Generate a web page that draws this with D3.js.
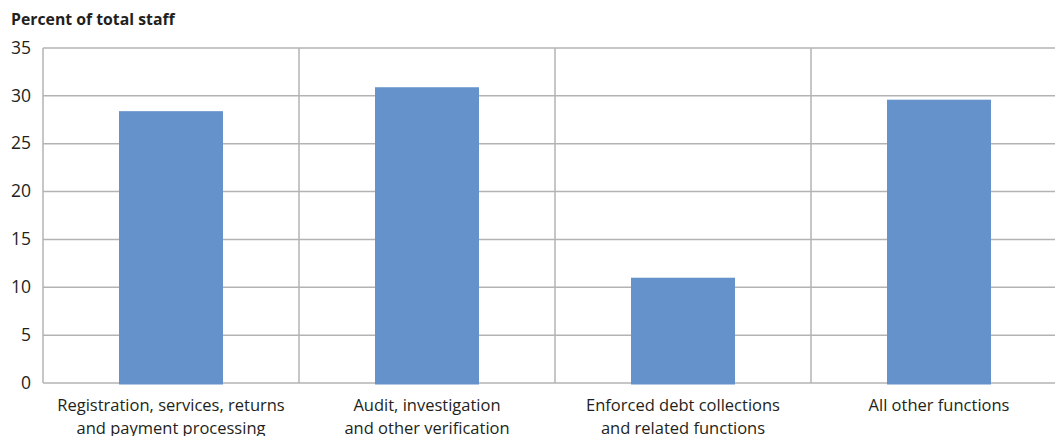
<!DOCTYPE html>
<html><head><meta charset="utf-8">
<script src="https://cdn.jsdelivr.net/npm/d3@7"></script>
<style>body{margin:0;background:#fff}svg{display:block}text{font-family:"Open Sans","Noto Sans",sans-serif;fill:#231f20}</style>
</head><body>
<script>
const categories = [
  ["Registration, services, returns","and payment processing"],
  ["Audit, investigation","and other verification"],
  ["Enforced debt collections","and related functions"],
  ["All other functions"]
];
const values = [28.4, 30.9, 11.0, 29.6];
const yTicks = [0,5,10,15,20,25,30,35];
const yTitle = "Percent of total staff";

(function(){
const W = 1055, H = 436;
const mLeft = 43, mRight = 1067, mTop = 48, mBottom = 383;
const svg = d3.select("body").append("svg").attr("width", W).attr("height", H);

const x = d3.scaleBand().domain(d3.range(categories.length)).range([mLeft, mRight]).paddingInner(0).paddingOuter(0);
const y = d3.scaleLinear().domain([0,35]).range([mBottom, mTop]);

// horizontal gridlines
svg.append("g").selectAll("line").data(yTicks).join("line")
  .attr("x1", mLeft).attr("x2", mRight)
  .attr("y1", d=>y(d)).attr("y2", d=>y(d))
  .attr("stroke", "#b3b3b3").attr("stroke-width", 1.5);
// vertical separators
svg.append("g").selectAll("line").data(d3.range(categories.length+1)).join("line")
  .attr("x1", d=>mLeft + d*x.step()).attr("x2", d=>mLeft + d*x.step())
  .attr("y1", mTop).attr("y2", mBottom)
  .attr("stroke", "#b3b3b3").attr("stroke-width", 1.5);

// bars
const bw = 104;
svg.append("g").selectAll("rect").data(values).join("rect")
  .attr("x", (d,i)=>x(i) + x.bandwidth()/2 - bw/2)
  .attr("width", bw)
  .attr("y", d=>y(d))
  .attr("height", d=>mBottom + 1.5 - y(d))
  .attr("fill", "#6592cb");

// y axis labels
const yAxis = d3.axisLeft(y).tickValues(yTicks).tickSize(0).tickPadding(12);
const ga = svg.append("g").attr("transform", `translate(${mLeft},0)`).call(yAxis);
ga.select(".domain").remove();
ga.selectAll("text").style("font-size","17.5px").style("font-family",'"Open Sans","Noto Sans",sans-serif').attr("fill","#231f20").attr("dy","0.3em");

// category labels
const cl = svg.append("g").selectAll("text").data(categories).join("text")
  .attr("x", (d,i)=>x(i)+x.bandwidth()/2)
  .attr("y", 411)
  .attr("text-anchor","middle")
  .style("font-size","16.5px");
cl.selectAll("tspan").data(d=>d).join("tspan")
  .attr("x", function(){return this.parentNode.getAttribute("x");})
  .attr("dy", (d,i)=> i===0 ? 0 : 23)
  .text(d=>d);

// title
svg.append("text").attr("x", 11).attr("y", 25).style("font-size","15.8px").style("font-weight","bold").text(yTitle);
})();
</script>
</body></html>
